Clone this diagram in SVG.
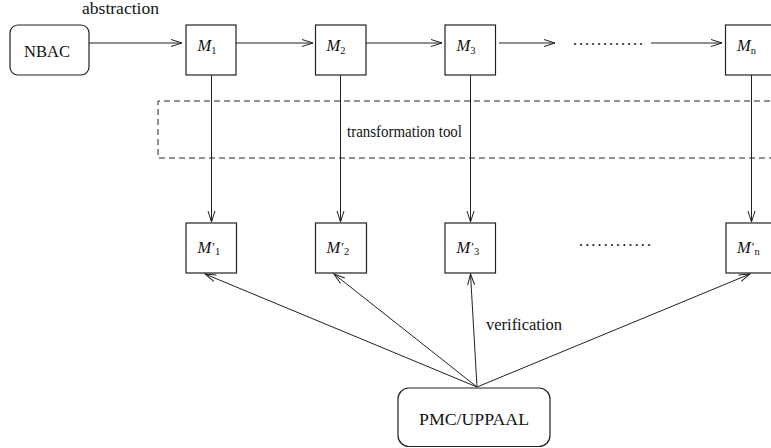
<svg xmlns="http://www.w3.org/2000/svg" width="771" height="448" viewBox="0 0 771 448" font-family="'Liberation Serif', 'DejaVu Serif', serif">
  <defs>
    <style>
      .box { fill: #fff; stroke: #222; stroke-width: 1.2; }
      .edge { fill: none; stroke: #222; stroke-width: 1; }
      .dash { fill: none; stroke: #222; stroke-width: 1; stroke-dasharray: 6 4; }
      .lbl { font-family: 'Liberation Serif', 'DejaVu Serif', serif; font-size: 16px; fill: #111; }
      .m { font-style: italic; font-size: 16.5px; }
      .sub { font-size: 10.5px; font-style: normal; }
      .pr { font-size: 13px; font-style: normal; }
    </style>
    <marker id="arr" markerUnits="userSpaceOnUse" markerWidth="14" markerHeight="10" viewBox="-12 -5 14 10" refX="0" refY="0" orient="auto">
      <path d="M-11,-3.5 L0,0 L-11,3.5" fill="none" stroke="#222" stroke-width="1"/>
    </marker>
  </defs>
  <rect width="771" height="448" fill="#fff"/>

  <!-- transformation stage -->
  <g id="transformation">
    <path class="dash" d="M780,101 H158 V158 H780"/>
    <text class="lbl" x="347" y="136.5" textLength="115" lengthAdjust="spacingAndGlyphs">transformation tool</text>
  </g>

  <g id="connectors">
    <!-- abstraction chain -->
    <line class="edge" x1="89" y1="43" x2="182" y2="43" marker-end="url(#arr)"/>
    <line class="edge" x1="236" y1="43" x2="313" y2="43" marker-end="url(#arr)"/>
    <line class="edge" x1="366" y1="43" x2="442" y2="43" marker-end="url(#arr)"/>
    <line class="edge" x1="499" y1="43" x2="555" y2="43" marker-end="url(#arr)"/>
    <line class="edge" x1="651" y1="43" x2="722" y2="43" marker-end="url(#arr)"/>
    <!-- transformation -->
    <line class="edge" x1="211.5" y1="75" x2="211.5" y2="222" marker-end="url(#arr)"/>
    <line class="edge" x1="340.5" y1="75" x2="340.5" y2="222" marker-end="url(#arr)"/>
    <line class="edge" x1="470.5" y1="75" x2="470.5" y2="222" marker-end="url(#arr)"/>
    <line class="edge" x1="751.5" y1="75" x2="751.5" y2="222" marker-end="url(#arr)"/>
    <!-- verification -->
    <line class="edge" x1="477" y1="387" x2="205" y2="274" marker-end="url(#arr)"/>
    <line class="edge" x1="477" y1="387" x2="334" y2="274" marker-end="url(#arr)"/>
    <line class="edge" x1="477" y1="387" x2="470.5" y2="274" marker-end="url(#arr)"/>
    <line class="edge" x1="477" y1="387" x2="750" y2="274" marker-end="url(#arr)"/>
    <text class="lbl" x="82" y="13.5" textLength="77" lengthAdjust="spacingAndGlyphs">abstraction</text>
    <text class="lbl" x="486" y="330" textLength="76" lengthAdjust="spacingAndGlyphs">verification</text>
    <text class="lbl" x="573" y="45" textLength="70" lengthAdjust="spacing">............</text>
    <text class="lbl" x="579" y="246" textLength="72" lengthAdjust="spacing">............</text>
  </g>

  <g id="nbac">
    <rect class="box" x="10" y="25" width="79" height="50" rx="8"/>
    <text class="lbl" x="24" y="57" textLength="46" lengthAdjust="spacingAndGlyphs">NBAC</text>
  </g>

  <g id="m1">
    <rect class="box" x="186" y="25" width="50" height="50"/>
    <text class="lbl m" x="197.5" y="50.5">M<tspan class="sub" dy="3">1</tspan></text>
  </g>
  <g id="m2">
    <rect class="box" x="315.5" y="25" width="50.5" height="50"/>
    <text class="lbl m" x="326.5" y="50.5">M<tspan class="sub" dy="3">2</tspan></text>
  </g>
  <g id="m3">
    <rect class="box" x="445" y="25" width="50.5" height="50"/>
    <text class="lbl m" x="456.5" y="50.5">M<tspan class="sub" dy="3">3</tspan></text>
  </g>
  <g id="mn">
    <rect class="box" x="725.5" y="25" width="52" height="50"/>
    <text class="lbl m" x="737" y="50.5">M<tspan class="sub" dy="3" font-style="italic">n</tspan></text>
  </g>

  <g id="m1p">
    <rect class="box" x="186" y="223" width="50.5" height="50"/>
    <text class="lbl m" x="197.5" y="252.5">M<tspan class="pr" dx="1" dy="-2">′</tspan><tspan class="sub" dy="4.5">1</tspan></text>
  </g>
  <g id="m2p">
    <rect class="box" x="315.5" y="223" width="51" height="50"/>
    <text class="lbl m" x="326.5" y="252.5">M<tspan class="pr" dx="1" dy="-2">′</tspan><tspan class="sub" dy="4.5">2</tspan></text>
  </g>
  <g id="m3p">
    <rect class="box" x="445" y="223" width="50.5" height="50"/>
    <text class="lbl m" x="456.5" y="252.5">M<tspan class="pr" dx="1" dy="-2">′</tspan><tspan class="sub" dy="4.5">3</tspan></text>
  </g>
  <g id="mnp">
    <rect class="box" x="726" y="223" width="52" height="50"/>
    <text class="lbl m" x="737" y="252.5">M<tspan class="pr" dx="1" dy="-2">′</tspan><tspan class="sub" dy="4.5" font-style="italic">n</tspan></text>
  </g>

  <g id="pmc">
    <rect class="box" x="398" y="388" width="152" height="58.5" rx="11"/>
    <text class="lbl" x="419" y="425" textLength="110" lengthAdjust="spacingAndGlyphs">PMC/UPPAAL</text>
  </g>
</svg>
